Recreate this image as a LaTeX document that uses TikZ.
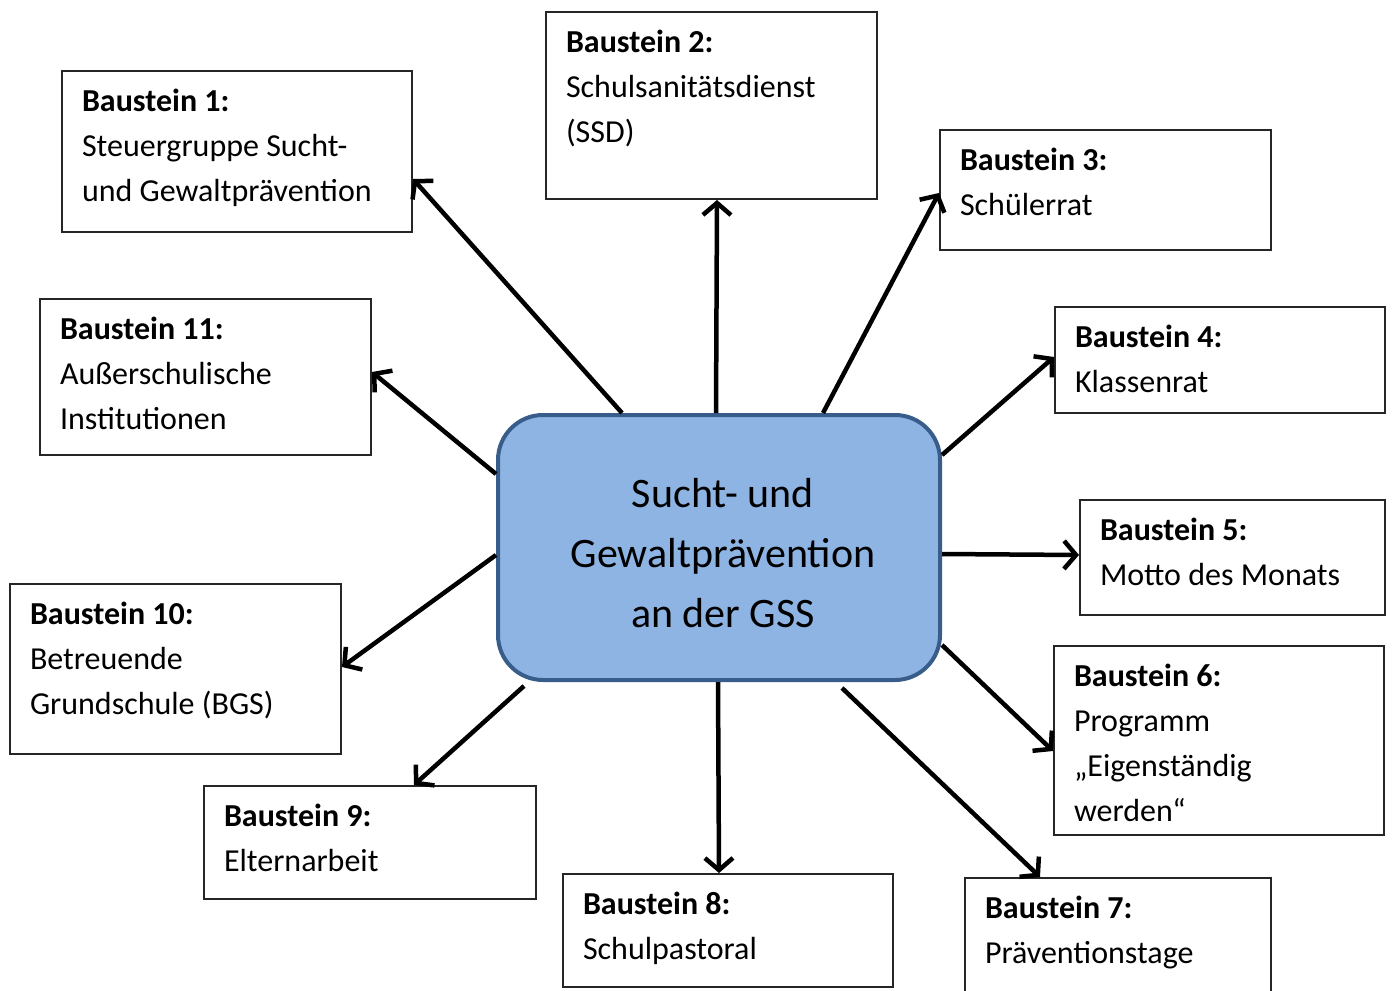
\documentclass[tikz,border=0pt]{standalone}
\usepackage{fontspec}
\setmainfont{Carlito}
\usetikzlibrary{arrows.meta}

\definecolor{mittefill}{HTML}{8EB4E3}
\definecolor{mitterand}{HTML}{385D8A}

% Kasten: Breite, Hoehe, Nummer, Text
\newcommand{\baustein}[4]{\parbox[c][#2][t]{#1}{\vspace*{18.5pt}\textbf{Baustein #3:}\\#4}}

\begin{document}
\begin{tikzpicture}[x=1pt, y=-1pt,
    bst/.style={draw=black!85, line width=2pt, anchor=north west, inner xsep=20pt, inner ysep=0pt,
      font=\fontsize{32}{45}\selectfont},
    mitte/.style={draw=mitterand, fill=mittefill, line width=4pt, rounded corners=45pt,
      minimum width=442pt, minimum height=265pt, inner sep=0pt},
    mittetext/.style={align=center, inner sep=0pt, font=\fontsize{42}{60}\selectfont},
    pfeil/.style={line width=4.5pt, -{Straight Barb[length=12pt, width=28pt, line width=4.5pt]}}]
    \useasboundingbox (0,0) rectangle (1394,990);

    \node[mitte] (mitte) at (719,547.5) {};
    \node[mittetext] (titel) at (723,553) {Sucht- und\\Gewaltprävention\\an der GSS};

    \node[bst] (b1) at (61,70) {\baustein{310pt}{161pt}{1}{Steuergruppe Sucht-\\und Gewaltprävention}};
    \node[bst] (b2) at (545,11) {\baustein{291pt}{187pt}{2}{Schulsanitätsdienst\\(SSD)}};
    \node[bst] (b3) at (939,129) {\baustein{291pt}{120pt}{3}{Schülerrat}};
    \node[bst] (b4) at (1054,306) {\baustein{290pt}{106pt}{4}{Klassenrat}};
    \node[bst] (b5) at (1079,499) {\baustein{265pt}{115pt}{5}{Motto des Monats}};
    \node[bst] (b6) at (1053,645) {\baustein{290pt}{189pt}{6}{Programm\\„Eigenständig\\werden“}};
    \node[bst] (b7) at (964,877) {\baustein{266pt}{130pt}{7}{Präventionstage}};
    \node[bst] (b8) at (562,873) {\baustein{290pt}{113pt}{8}{Schulpastoral}};
    \node[bst] (b9) at (203,785) {\baustein{292pt}{113pt}{9}{Elternarbeit}};
    \node[bst] (b10) at (9,583) {\baustein{291pt}{170pt}{10}{Betreuende\\Grundschule (BGS)}};
    \node[bst] (b11) at (39,298) {\baustein{291pt}{156pt}{11}{Außerschulische\\Institutionen}};

    % Pfeile von der Mitte zu den Bausteinen
    \draw[pfeil] ([xshift=-97pt]mitte.north) -- ([yshift=-27.5pt]b1.east);
    \draw[pfeil] ([xshift=-3pt]mitte.north) -- ([xshift=5.5pt]b2.south);
    \draw[pfeil] ([xshift=104pt]mitte.north) -- ([yshift=-3pt]b3.west);
    \draw[pfeil] ([yshift=92.5pt]mitte.east) -- ([yshift=3pt]b4.west);
    \draw[pfeil] ([yshift=-6.5pt]mitte.east) -- ([yshift=2.5pt]b5.west);
    \draw[pfeil] ([yshift=-97.5pt]mitte.east) -- ([yshift=-10.5pt]b6.west);
    \draw[pfeil] ([xshift=123pt,yshift=-6pt]mitte.south) -- ([xshift=76pt]b7.north west);
    \draw[pfeil] ([xshift=-1pt]mitte.south) -- ([xshift=-9pt]b8.north);
    \draw[pfeil] ([xshift=-195pt,yshift=-4pt]mitte.south) -- ([xshift=44pt]b9.north);
    \draw[pfeil] ([yshift=-7.5pt]mitte.west) -- ([yshift=2pt]b10.east);
    \draw[pfeil] ([yshift=73.5pt]mitte.west) -- ([yshift=5pt]b11.east);
\end{tikzpicture}
\end{document}
